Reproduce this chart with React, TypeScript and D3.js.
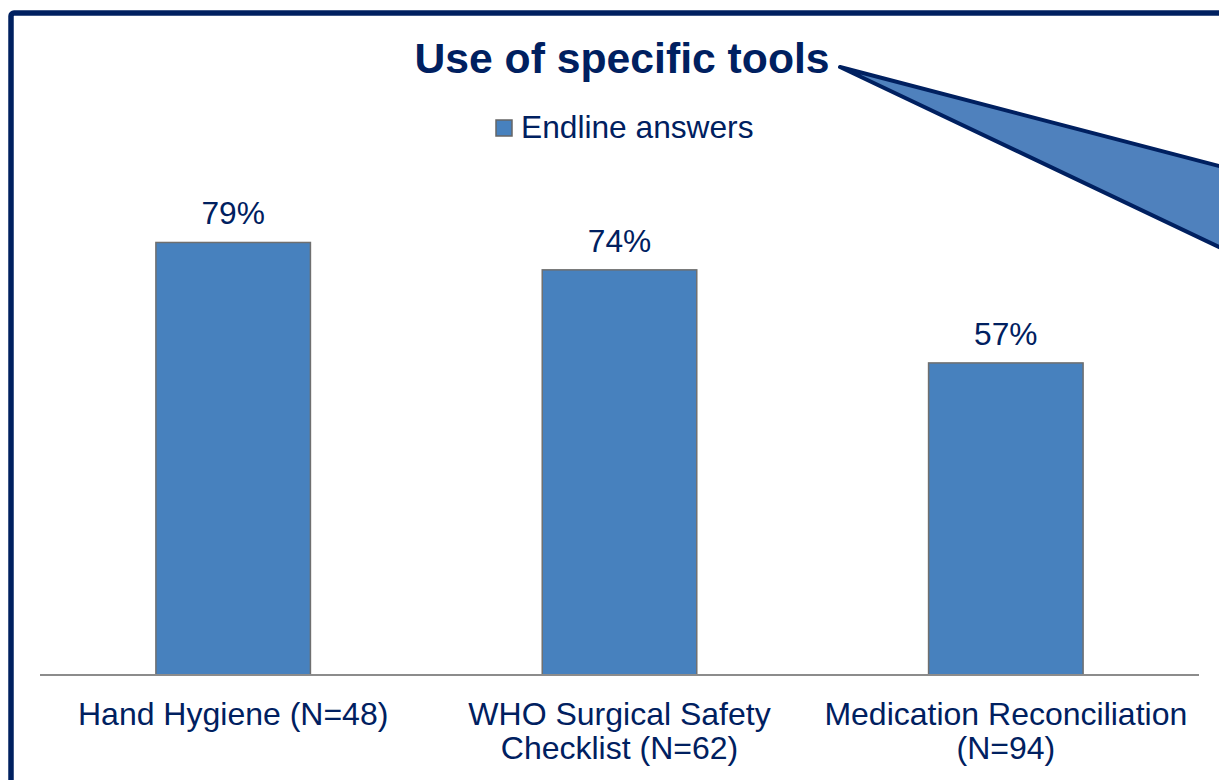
import React from "react";
import * as d3 from "d3";

const categories: string[][] = [
  ["Hand Hygiene (N=48)"],
  ["WHO Surgical Safety", "Checklist (N=62)"],
  ["Medication Reconciliation", "(N=94)"],
];
const values: number[] = [79, 74, 57];
const valueLabels: string[] = ["79%", "74%", "57%"];
const seriesName = "Endline answers";
const title = "Use of specific tools";

const W = 1219;
const H = 780;
const NAVY = "#002060";
const BAR = "#4781be";
const FONT = "'Liberation Sans', Arial, sans-serif";

export default function App() {
  const x = d3
    .scaleBand<number>()
    .domain(values.map((_, i) => i))
    .range([40, 1199])
    .paddingInner(0.6)
    .paddingOuter(0.3);
  const y = d3.scaleLinear().domain([0, 100]).range([675, 127.5]);

  return (
    <svg
      width={W}
      height={H}
      style={{ position: "absolute", left: 0, top: 0, background: "#fff" }}
      fontFamily={FONT}
    >
      {/* frame */}
      <rect x={11} y={13} width={W + 100} height={H + 100} rx={3} fill="none" stroke={NAVY} strokeWidth={5.5} />

      {/* callout */}
      <path
        d={`M840,67 L${1219 + 300},${67 + (166 - 67) * ((1219 + 300 - 840) / (1219 - 840))} L${1219 + 300},${67 + (247 - 67) * ((1219 + 300 - 840) / (1219 - 840))} Z`}
        fill="#4f81bd"
        stroke={NAVY}
        strokeWidth={4}
        strokeLinejoin="round"
      />

      {/* title */}
      <text x={622} y={73} textAnchor="middle" fontSize={42.7} fontWeight="bold" fill={NAVY}>
        {title}
      </text>

      {/* legend */}
      <rect x={496} y={120} width={16} height={16} fill={BAR} stroke="#666" strokeWidth={1.5} />
      <text x={521} y={137.5} fontSize={31.7} fill={NAVY}>
        {seriesName}
      </text>

      {/* bars */}
      {values.map((v, i) => (
        <g key={i}>
          <rect
            x={x(i)!}
            y={y(v)}
            width={x.bandwidth()}
            height={y(0) - y(v)}
            fill={BAR}
            stroke="#6f6f6f"
            strokeWidth={1.5}
          />
          <text
            x={x(i)! + x.bandwidth() / 2}
            y={y(v) - 18}
            textAnchor="middle"
            fontSize={31.7}
            fill={NAVY}
          >
            {valueLabels[i]}
          </text>
        </g>
      ))}

      {/* axis */}
      <line x1={40} x2={1199} y1={675} y2={675} stroke="#8c8c8c" strokeWidth={2} />

      {/* category labels */}
      {categories.map((lines, i) => (
        <text key={i} x={x(i)! + x.bandwidth() / 2} textAnchor="middle" fontSize={32} fill={NAVY}>
          {lines.map((l, j) => (
            <tspan key={j} x={x(i)! + x.bandwidth() / 2} y={725 + j * 33.5}>
              {l}
            </tspan>
          ))}
        </text>
      ))}
    </svg>
  );
}
